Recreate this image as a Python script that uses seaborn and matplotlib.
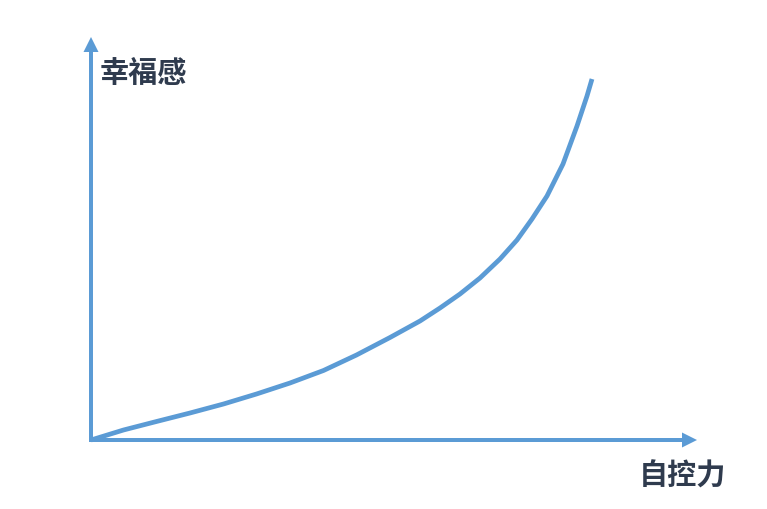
import numpy as np
import pandas as pd
import matplotlib
matplotlib.use("Agg")
import matplotlib.pyplot as plt
import seaborn as sns

# self-control (x) vs happiness (y)
self_control = [0.0, 0.65, 1.31, 1.98, 2.65, 3.31, 3.98, 4.65, 5.31, 5.98,
                6.58, 6.98, 7.38, 7.78, 8.18, 8.52, 8.82, 9.12, 9.44, 9.72,
                9.92, 10.02]
happiness = [0.0, 0.20, 0.37, 0.54, 0.72, 0.92, 1.14, 1.39, 1.70, 2.05,
             2.38, 2.64, 2.92, 3.24, 3.62, 4.00, 4.42, 4.88, 5.52, 6.28,
             6.88, 7.22]
x_label = "自控力"
y_label = "幸福感"

blue = "#5B9BD5"
dark = "#2F3B4E"

sns.set_theme(style="white")
plt.rcParams["font.family"] = ["Noto Sans CJK SC", "DejaVu Sans"]

fig = plt.figure(figsize=(7.67, 5.10), dpi=100)
ax = fig.add_axes([0, 0, 1, 1])

df = pd.DataFrame({"x": self_control, "y": happiness})
sns.lineplot(data=df, x="x", y="y", sort=False, color=blue, linewidth=3.4,
             solid_capstyle="butt", solid_joinstyle="round", ax=ax)

# axis arrows
ax.arrow(0, -0.04, 0, 7.8, width=0.08, head_width=0.3, head_length=0.3,
         length_includes_head=False, color=blue, lw=0)
ax.arrow(-0.04, 0, 11.86, 0, width=0.08, head_width=0.3, head_length=0.3,
         length_includes_head=False, color=blue, lw=0)

ax.text(0.18, 7.36, y_label, fontsize=21, fontweight="bold", color=dark,
        ha="left", va="center")
ax.text(10.96, -0.70, x_label, fontsize=21, fontweight="bold", color=dark,
        ha="left", va="center")

ax.set_xlim(-1.82, 13.52)
ax.set_ylim(-1.38, 8.82)
ax.set_axis_off()

fig.savefig("out.png", dpi=100)
